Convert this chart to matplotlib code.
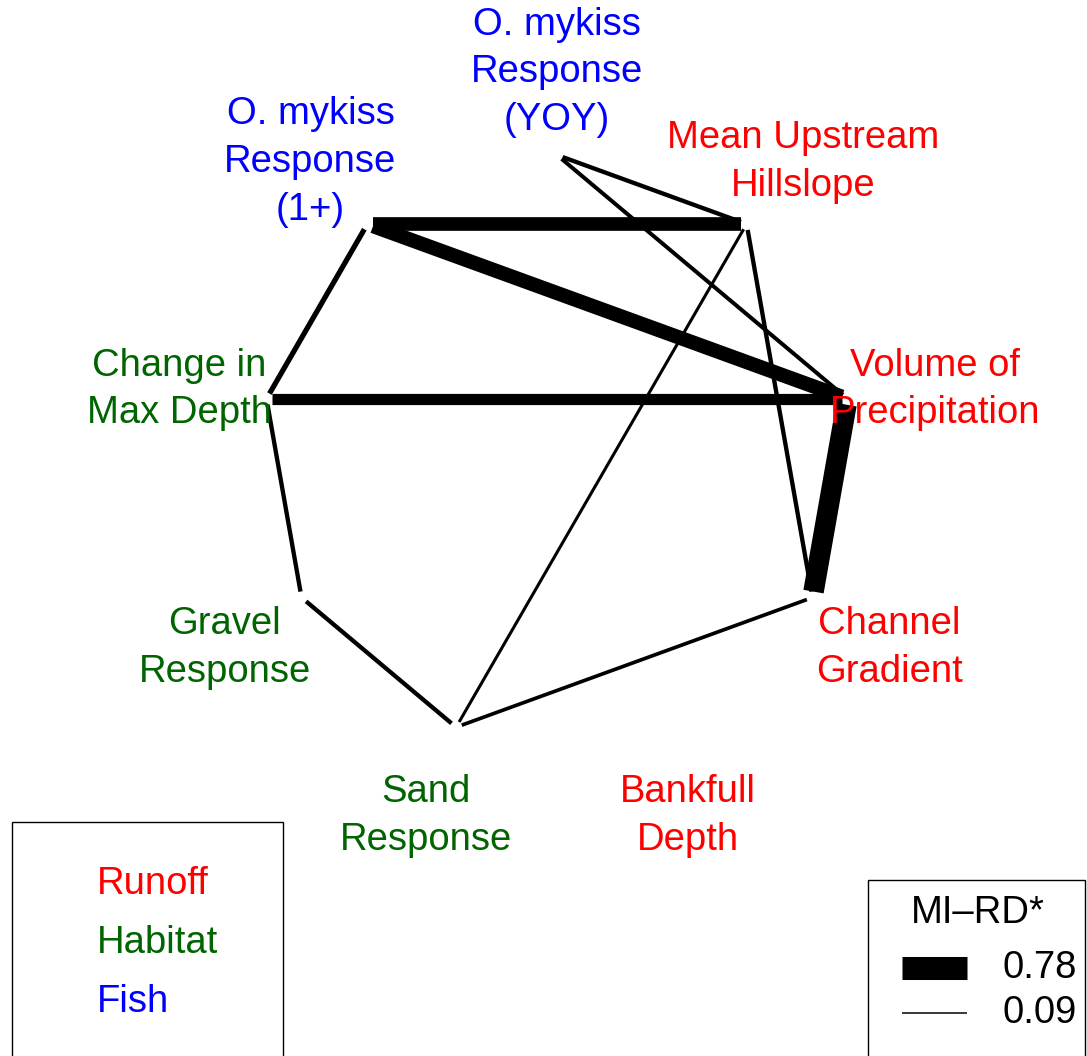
import numpy as np
import matplotlib
matplotlib.use("Agg")
import matplotlib.pyplot as plt
from matplotlib.patches import Rectangle
from matplotlib.lines import Line2D

plt.rcParams["font.family"] = ["Liberation Sans", "DejaVu Sans"]

# nodes, clockwise from the top
nodes = ["O. mykiss\nResponse\n(YOY)", "Mean Upstream\nHillslope", "Volume of\nPrecipitation",
         "Channel\nGradient", "Bankfull\nDepth", "Sand\nResponse", "Gravel\nResponse",
         "Change in\nMax Depth", "O. mykiss\nResponse\n(1+)"]
groups = ["Fish", "Runoff", "Runoff", "Runoff", "Runoff", "Habitat", "Habitat", "Habitat", "Fish"]
group_names = ["Runoff", "Habitat", "Fish"]
group_colors = {"Runoff": "#FF0000", "Habitat": "#006400", "Fish": "#0000FF"}

# edges (MI-RD*)
edge_from = [8, 8, 7, 2, 0, 0, 1, 1, 8, 7, 6, 5]
edge_to = [1, 2, 2, 3, 1, 2, 3, 5, 7, 6, 5, 3]
mi_rd = [0.48, 0.50, 0.40, 0.70, 0.18, 0.17, 0.18, 0.14, 0.21, 0.18, 0.18, 0.16]
legend_vals = [0.78, 0.09]

W, H, DPI = 1087, 1056, 100
PX = 295.0  # pixels per data unit


def lw(v):
    return max(31.2 * v - 1.3, 0.5) * 72.0 / DPI


fig = plt.figure(figsize=(W / DPI, H / DPI), dpi=DPI)
ax = fig.add_axes([0, 0, 1, 1])
ax.set_xlim(-557 / PX, (W - 557) / PX)
ax.set_ylim(-(H - 450) / PX, 450 / PX)
ax.axis("off")

n = len(nodes)
ang = np.deg2rad(np.arange(n) * 360.0 / n)
x = np.sin(ang)
y = np.cos(ang)

trim = 6 / PX
for a, b, v in zip(edge_from, edge_to, mi_rd):
    dx, dy = x[b] - x[a], y[b] - y[a]
    d = np.hypot(dx, dy)
    ux, uy = dx / d, dy / d
    ax.plot([x[a] + ux * trim, x[b] - ux * trim], [y[a] + uy * trim, y[b] - uy * trim],
            color="black", lw=lw(v), solid_capstyle="butt")

for i, name in enumerate(nodes):
    ax.text(1.3 * x[i], 1.3 * y[i] - 6 / PX, name, ha="center", va="center",
            multialignment="center", fontsize=27.5, color=group_colors[groups[i]],
            linespacing=1.42)

# group legend (bottom left)
fig.patches.append(Rectangle((12 / W, -0.05), (283 - 12) / W, 1 - 822 / H + 0.05,
                             transform=fig.transFigure, fill=False, lw=1, ec="black"))
for k, g in enumerate(group_names):
    fig.text(97 / W, 1 - (884 + 59 * k) / H, g, color=group_colors[g], fontsize=27.5,
             ha="left", va="center")

# width legend (bottom right)
fig.patches.append(Rectangle((868 / W, -0.05), 0.2, 1 - 880 / H + 0.05,
                             transform=fig.transFigure, fill=False, lw=1, ec="black"))
fig.text(978 / W, 1 - 913 / H, "MI\u2013RD*", fontsize=27.5, ha="center", va="center")
for k, v in enumerate(legend_vals):
    yy = 1 - (968 + 45 * k) / H
    fig.lines.append(Line2D([902 / W, 967 / W], [yy, yy], transform=fig.transFigure,
                            color="black", lw=lw(v), solid_capstyle="butt"))
    fig.text(1002 / W, yy, f"{v:.2f}", fontsize=27.5, ha="left", va="center")

fig.savefig("out.png", dpi=DPI)
